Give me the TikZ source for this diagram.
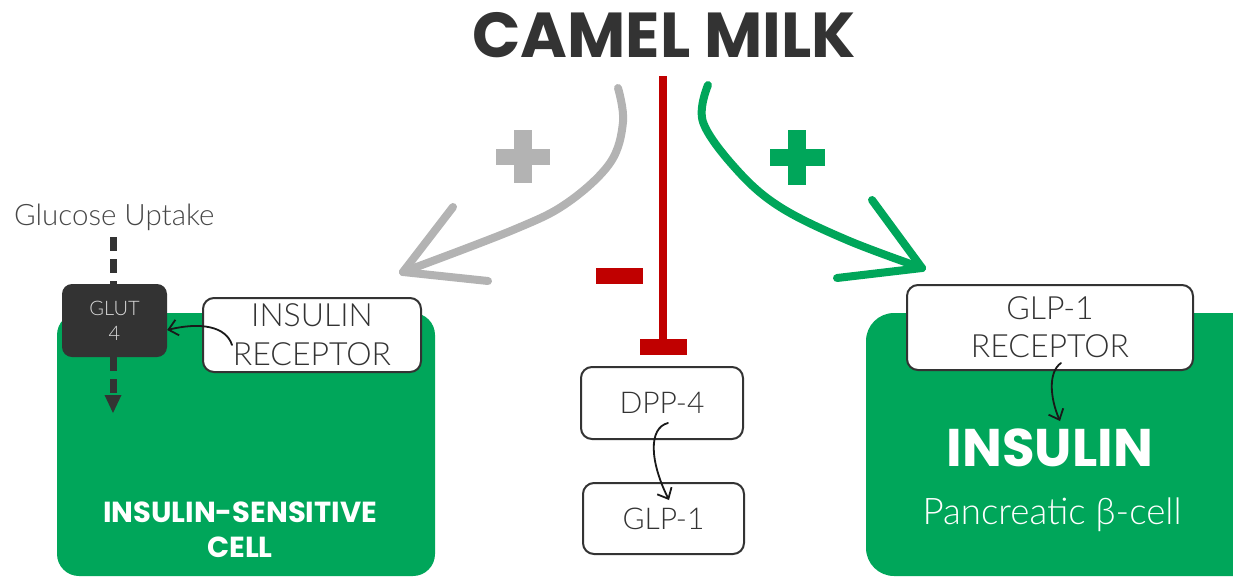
\documentclass[tikz,border=0pt]{standalone}
\usepackage{fontspec}
\setmainfont{Lato}
\newfontfamily\popfont{Poppins}
\newfontfamily\lightfont{Lato Light}
\usetikzlibrary{arrows.meta}
\definecolor{cgreen}{RGB}{0,166,90}
\definecolor{cdark}{RGB}{51,51,51}
\definecolor{cred}{RGB}{192,0,0}
\definecolor{cgray}{RGB}{179,179,179}
\tikzset{
  recbox/.style={draw=cdark, line width=2pt, fill=white, rounded corners=11pt},
  bigarrow/.style={line width=8pt, line cap=round, line join=round},
  handarrow/.style={draw=black!90, line width=1.8pt, line cap=round, -{Straight Barb[length=9pt,width=16pt,line width=1.8pt]}},
}
\begin{document}
\begin{tikzpicture}[x=1pt,y=-1pt]
\useasboundingbox (0,0) rectangle (1233,576);
% title
\node[text=cdark, font=\popfont\bfseries\fontsize{63.5}{63.5}\selectfont, inner sep=0] (title) at (664,35) {CAMEL MILK};

% left green cell
\fill[cgreen, rounded corners=22pt] (57,313) rectangle (435,576);
\node[text=white, align=center, font=\popfont\bfseries\fontsize{29}{35}\selectfont, inner sep=0] (lcelltxt) at (240,530) {INSULIN-SENSITIVE\\CELL};

% right green cell
\fill[cgreen, rounded corners=28pt] (866,313) rectangle (1270,576);
\node[text=white, font=\popfont\bfseries\fontsize{53}{53}\selectfont, inner sep=0] (insulin) at (1050,448) {INSULIN};
\node[text=white, font=\lightfont\fontsize{36.7}{36.7}\selectfont, inner sep=0] (panc) at (1052,515) {Pancreatic β-cell};

% GLUT 4
\node[fill=cdark, rounded corners=10pt, minimum width=105pt, minimum height=73pt, inner sep=0, text=white!85!black, align=center, font=\lightfont\fontsize{20}{25}\selectfont] (glut) at (114.5,320.5) {GLUT\\4};
\node[text=cdark!90!white, font=\lightfont\fontsize{29.5}{29.5}\selectfont, inner sep=0, anchor=west] (gluc) at (14,217) {Glucose Uptake};
\coordinate (gtop) at (113,237);
\coordinate (gbot) at (113,413);
\draw[cdark, line width=7pt, dash pattern=on 14pt off 8pt] (gtop) -- (glut.north -| gtop);
\draw[cdark, line width=7pt, dash pattern=on 14pt off 8pt] (glut.south -| gbot) -- (113,396);
\fill[cdark] (104.5,395) -- (121.5,395) -- (gbot) -- cycle;

% insulin receptor
\node[recbox, minimum width=218pt, minimum height=74pt, inner sep=0, align=center, font=\lightfont\fontsize{32}{39}\selectfont, text=cdark] (irec) at (312,335) {INSULIN\\RECEPTOR};
\coordinate (ir1) at (232,345);
\draw[handarrow] (ir1) .. controls (226,326) and (200,322) .. (glut.east |- 0,330);

% DPP-4, GLP-1
\node[recbox, minimum width=162pt, minimum height=72pt, inner sep=0, font=\lightfont\fontsize{30}{30}\selectfont, text=cdark] (dpp) at (662,403) {DPP-4};
\node[recbox, minimum width=161pt, minimum height=71pt, inner sep=0, font=\lightfont\fontsize{30}{30}\selectfont, text=cdark] (glp) at (663.5,518.5) {GLP-1};
\coordinate (d1) at (668,423);
\draw[handarrow] (d1) .. controls (648,428) and (650,462) .. (669,500);

% GLP-1 receptor
\node[recbox, minimum width=286pt, minimum height=85pt, inner sep=0, align=center, font=\lightfont\fontsize{32}{38}\selectfont, text=cdark] (grec) at (1050,327.5) {GLP-1\\RECEPTOR};
\coordinate (g1) at (1061,363);
\coordinate (g2) at (1060,421);
\draw[handarrow] (g1) .. controls (1048,372) and (1050,398) .. (g2);

% red inhibition
\fill[cred] (659,76) rectangle (667,339);
\fill[cred] (640,339) rectangle (687,355);
\fill[cred] (596,268) rectangle (643,284);

% gray arrow
\coordinate (gs) at (618,88);
\coordinate (gt) at (403,272);
\draw[cgray, bigarrow] plot[smooth, tension=0.6] coordinates {(gs) (623,122) (610,163) (567,203) (513,230) (gt)};
\draw[cgray, bigarrow] (453,207) -- (gt) -- (488,281);
\fill[cgray] (514,130) rectangle (532,183);
\fill[cgray] (496,149) rectangle (550,165);

% green arrow
\coordinate (ns) at (708,85);
\coordinate (nt) at (922,268);
\draw[cgreen, bigarrow] plot[smooth, tension=0.6] coordinates {(ns) (703,122) (737,170) (780,207) (847,240) (nt)};
\draw[cgreen, bigarrow] (872,200) -- (nt) -- (837,278);
\fill[cgreen] (788,130) rectangle (806,185);
\fill[cgreen] (770,149) rectangle (825,166);
\end{tikzpicture}
\end{document}
